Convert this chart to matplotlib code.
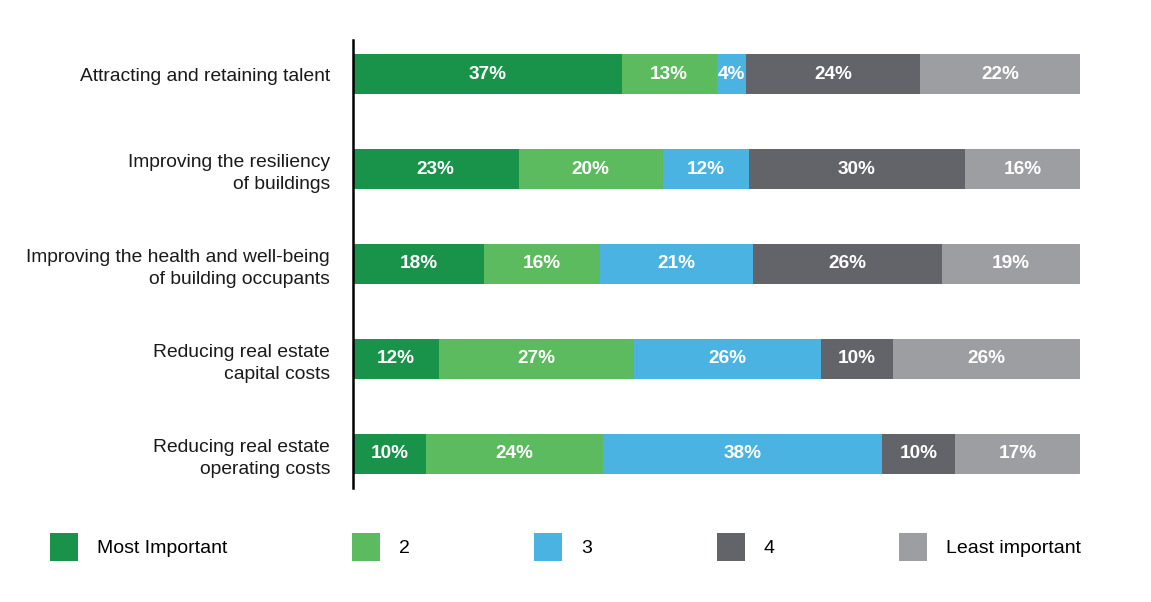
import matplotlib
matplotlib.use("Agg")
import matplotlib.pyplot as plt
import numpy as np

plt.rcParams["font.family"] = ["Liberation Sans", "DejaVu Sans"]

categories = [
    "Attracting and retaining talent",
    "Improving the resiliency\nof buildings",
    "Improving the health and well-being\nof building occupants",
    "Reducing real estate\ncapital costs",
    "Reducing real estate\noperating costs",
]
series_names = ["Most Important", "2", "3", "4", "Least important"]
most_important = [37, 23, 18, 12, 10]
rank_2 = [13, 20, 16, 27, 24]
rank_3 = [4, 12, 21, 26, 38]
rank_4 = [24, 30, 26, 10, 10]
least_important = [22, 16, 19, 26, 17]
colors = ["#19934a", "#5cba5f", "#4bb3e1", "#636469", "#9d9ea2"]

values = np.array([most_important, rank_2, rank_3, rank_4, least_important], dtype=float)
# rows don't sum exactly to 100 (rounding), bars are stretched to full width
shares = values / values.sum(axis=0) * 100

fig = plt.figure(figsize=(11.51, 6.02), dpi=100)
ax = fig.add_axes([353 / 1151, 1 - 488 / 602, (1080 - 353) / 1151, (488 - 40) / 602])

y = np.arange(len(categories))
left = np.zeros(len(categories))
for name, share, raw, color in zip(series_names, shares, values, colors):
    bars = ax.barh(y, share, left=left, height=0.42, color=color, label=name)
    for b, v in zip(bars, raw):
        ax.text(b.get_x() + b.get_width() / 2, b.get_y() + b.get_height() / 2,
                f"{int(v)}%", ha="center", va="center", color="white",
                fontsize=13.7, fontweight="bold")
    left += share

ax.set_xlim(0, 100)
ax.set_ylim(4.358, -0.358)
ax.set_yticks(y)
ax.set_yticklabels(categories, fontsize=13.9, color="#1a1a1a")
for lab in ax.get_yticklabels():
    lab.set_multialignment("right")
    lab.set_linespacing(1.35)
ax.tick_params(axis="y", length=0, pad=16.5)
ax.set_xticks([])
for side in ["top", "right", "bottom"]:
    ax.spines[side].set_visible(False)
ax.spines["left"].set_linewidth(1.8)
ax.spines["left"].set_color("black")

fig.legend(
    loc="center left",
    bbox_to_anchor=(50 / 1151, 1 - 547 / 602),
    ncol=5,
    frameon=False,
    fontsize=14,
    handlelength=1.44,
    handleheight=1.84,
    handletextpad=0.98,
    columnspacing=6.4,
    borderpad=0,
    borderaxespad=0,
)

fig.savefig("out.png", dpi=100)
